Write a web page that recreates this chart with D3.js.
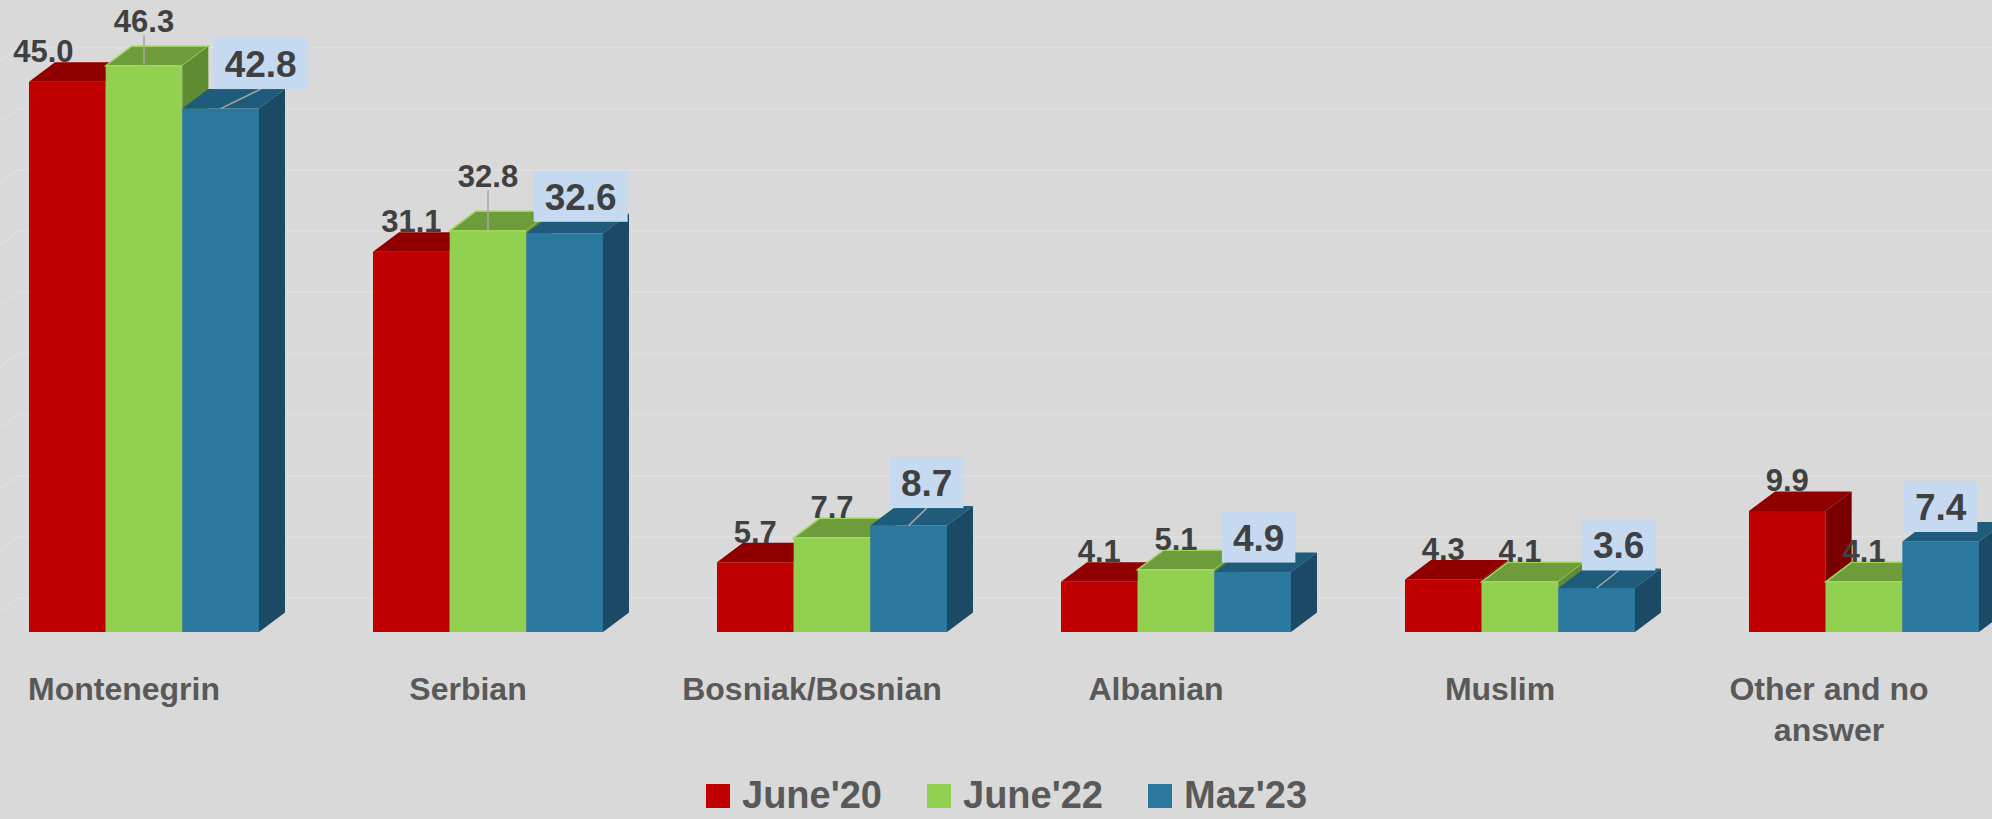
<!DOCTYPE html>
<html>
<head>
<meta charset="utf-8">
<script src="https://cdn.jsdelivr.net/npm/d3@7"></script>
<style>
  html, body { margin: 0; padding: 0; background: #d9d9d9; }
  svg { display: block; }
</style>
</head>
<body>
<svg id="chart"></svg>
<script>
const WIDTH = 1992;
const HEIGHT = 819;
const FONT = "'Liberation Sans', Arial, sans-serif";

// DATA
const categories = ['Montenegrin', 'Serbian', 'Bosniak/Bosnian', 'Albanian', 'Muslim', 'Other and no answer'];
const seriesNames = ["June'20", "June'22", "Maz'23"];
const june20 = [45.0, 31.1, 5.7, 4.1, 4.3, 9.9];
const june22 = [46.3, 32.8, 7.7, 5.1, 4.1, 4.1];
const maz23 = [42.8, 32.6, 8.7, 4.9, 3.6, 7.4];
const yTicks = [0, 5, 10, 15, 20, 25, 30, 35, 40, 45, 50];

// colours per series: front, top, side
const COLORS = [
  { front: '#c00000', top: '#910000', side: '#7a0000' },
  { front: '#92d050', top: '#6f9c3b', side: '#5f8c33' },
  { front: '#2a789e', top: '#1f5b7b', side: '#1b4a66' }
];

// label nudges (px) : dx, dy, leader line
const labelNudge = [
  [[-24, 0, 0], [0, 0, 0], [0, 0, 0], [0, 0, 0], [0, 0, 0], [0, 0, 0]],
  [[0, -14, 1], [0, -24, 1], [0, 0, 0], [0, 0, 0], [0, 0, 0], [0, 0, 0]],
  [[40, 0, 1], [16, 8, 0], [18, 2, 1], [6, 10, 0], [22, 2, 1], [0, 10, 0]]
];

const DX = 26;      // bar depth
const DY = 19.5;
const WALL_DX = 45; // back wall depth
const WALL_DY = 34;

const allSeries = [june20, june22, maz23];

const svg = d3.select('#chart').attr('width', WIDTH).attr('height', HEIGHT);

const x = d3.scaleBand().domain(categories).range([29, 1979]).paddingInner(0.3314).paddingOuter(0);
const xs = d3.scaleBand().domain(seriesNames).range([0, x.bandwidth()]).padding(0);
const y = d3.scaleLinear().domain([0, 50]).range([632, 632 - 50 * 12.23]);

// gridlines on back wall + side wall
const grid = svg.append('g').attr('stroke', '#dfdfdf').attr('stroke-width', 1.5).attr('fill', 'none');
const wallLeft = 18;
yTicks.forEach(t => {
  const yb = y(t) - WALL_DY;
  grid.append('line').attr('x1', wallLeft).attr('x2', WIDTH).attr('y1', yb).attr('y2', yb);
  grid.append('line').attr('x1', wallLeft - WALL_DX).attr('y1', y(t)).attr('x2', wallLeft).attr('y2', yb);
});

// bars
const bars = svg.append('g');
categories.forEach((cat, ci) => {
  seriesNames.forEach((s, si) => {
    const v = allSeries[si][ci];
    const x0 = x(cat) + xs(s);
    const w = xs.bandwidth();
    const yv = y(v);
    const yb = y(0);
    const c = COLORS[si];
    bars.append('rect')
      .attr('x', x0).attr('y', yv).attr('width', w).attr('height', yb - yv)
      .attr('fill', c.front);
    bars.append('path')
      .attr('d', `M${x0},${yv}L${x0 + DX},${yv - DY}L${x0 + w + DX},${yv - DY}L${x0 + w},${yv}Z`)
      .attr('fill', c.top)
      .attr('stroke', si === 1 ? '#9fd65e' : 'none')
      .attr('stroke-width', 1.5);
    bars.append('path')
      .attr('d', `M${x0 + w},${yv}L${x0 + w + DX},${yv - DY}L${x0 + w + DX},${yb - DY}L${x0 + w},${yb}Z`)
      .attr('fill', c.side);
  });
});

// data labels
const labels = svg.append('g').attr('font-family', FONT).attr('font-weight', 'bold').attr('fill', '#404040');
categories.forEach((cat, ci) => {
  seriesNames.forEach((s, si) => {
    const v = allSeries[si][ci];
    const cx = x(cat) + xs(s) + xs.bandwidth() / 2;
    const yFront = y(v);
    const yBack = y(v) - DY;
    const [ndx, ndy, leader] = labelNudge[si][ci];
    const txt = v.toFixed(1);

    if (si < 2) {
      const lx = cx + ndx;
      const ly = yBack + ndy;
      if (leader) {
        labels.append('line')
          .attr('x1', cx).attr('x2', cx)
          .attr('y1', ly + 3).attr('y2', yFront)
          .attr('stroke', '#a6a6a6').attr('stroke-width', 1.5);
      }
      labels.append('text')
        .attr('x', lx).attr('y', ly)
        .attr('text-anchor', 'middle')
        .attr('font-size', 31)
        .text(txt);
    } else {
      const bx = cx + ndx;
      const bottom = yBack + ndy;
      const BOX_H = 51;
      const t = labels.append('text')
        .attr('x', bx).attr('y', bottom - 12)
        .attr('text-anchor', 'middle')
        .attr('font-size', 37)
        .text(txt);
      const tw = t.node().getComputedTextLength();
      const boxW = tw + 22;
      if (leader) {
        labels.insert('line', 'text')
          .attr('x1', bx).attr('y1', bottom)
          .attr('x2', cx).attr('y2', yFront)
          .attr('stroke', '#a6a6a6').attr('stroke-width', 1.5);
      }
      labels.insert('rect', 'text')
        .attr('x', bx - boxW / 2).attr('y', bottom - BOX_H)
        .attr('width', boxW).attr('height', BOX_H)
        .attr('fill', '#c5d9f1');
    }
  });
});

// category labels
const catG = svg.append('g').attr('font-family', FONT).attr('font-weight', 'bold')
  .attr('fill', '#595959').attr('font-size', 32);
categories.forEach(cat => {
  const cx = x(cat) + x.bandwidth() / 2 - 20;
  const t = catG.append('text').attr('x', cx).attr('y', 700).attr('text-anchor', 'middle').text(cat);
  if (t.node().getComputedTextLength() > 280) {
    const words = cat.split(' ');
    const first = words.slice(0, words.length - 1).join(' ');
    const last = words[words.length - 1];
    t.text(null).attr('x', cx - 15);
    t.append('tspan').attr('x', cx - 15).attr('y', 700).text(first);
    t.append('tspan').attr('x', cx - 15).attr('y', 741).text(last);
  }
});

// legend
const legend = svg.append('g').attr('font-family', FONT).attr('font-weight', 'bold')
  .attr('fill', '#595959').attr('font-size', 38);
let lx = 706;
seriesNames.forEach((s, si) => {
  legend.append('rect').attr('x', lx).attr('y', 784).attr('width', 24).attr('height', 24)
    .attr('fill', COLORS[si].front);
  const t = legend.append('text').attr('x', lx + 36).attr('y', 808).text(s);
  lx += 36 + t.node().getComputedTextLength() + 45;
});
</script>
</body>
</html>
